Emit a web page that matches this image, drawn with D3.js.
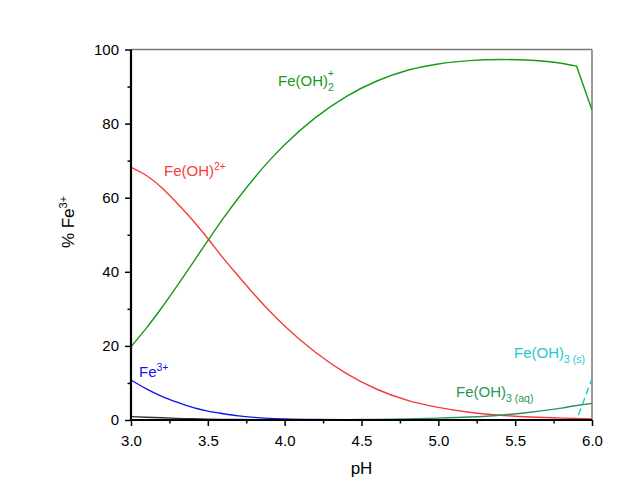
<!DOCTYPE html>
<html>
<head>
<meta charset="utf-8">
<script src="https://cdn.jsdelivr.net/npm/d3@7"></script>
<style>
  body { margin: 0; background: #fff; }
  text { font-family: "Liberation Sans", Arial, sans-serif; }
  .axis text { font-size: 15px; fill: #000; }
</style>
</head>
<body>
<div id="chart"></div>
<script>
// pH grid shared by all species
const pH = [3.0, 3.1, 3.2, 3.3, 3.4, 3.5, 3.6, 3.7, 3.8, 3.9, 4.0, 4.2, 4.4, 4.6, 4.8, 5.0, 5.2, 5.4, 5.6, 5.8, 5.9, 6.0];

// % of total Fe3+ for each species
const feOH2 = [19.8, 24.8, 30.3, 36.2, 42.3, 48.4, 54.4, 60.0, 65.2, 70.0, 74.3, 81.6, 87.3, 91.5, 94.4, 96.1, 97.0, 97.3, 97.1, 96.3, 95.5, 83.6];
const feOH = [68.2, 66.0, 62.7, 58.5, 54.0, 49.0, 43.7, 38.8, 34.0, 29.5, 25.4, 18.3, 12.6, 8.3, 5.3, 3.4, 2.1, 1.3, 0.8, 0.5, 0.4, 0.25];
const fe3 = [10.8, 8.4, 6.4, 4.8, 3.4, 2.4, 1.7, 1.1, 0.7, 0.45, 0.3, 0.12, 0.05, 0.02, 0, 0, 0, 0, 0, 0, 0, 0];
const dimer = [0.9, 0.75, 0.6, 0.45, 0.33, 0.24, 0.17, 0.12, 0.08, 0.05, 0.03, 0.01, 0, 0, 0, 0, 0, 0, 0, 0, 0, 0];
const feOH3aq = [0, 0, 0, 0, 0, 0, 0, 0, 0, 0, 0.02, 0.05, 0.1, 0.17, 0.3, 0.5, 0.8, 1.3, 2.1, 3.2, 3.9, 4.5];
const feOH4 = [0, 0, 0, 0, 0, 0, 0, 0, 0, 0, 0, 0, 0, 0, 0, 0, 0, 0, 0, 0, 0, 0];
const feOH3s = [0, 0, 0, 0, 0, 0, 0, 0, 0, 0, 0, 0, 0, 0, 0, 0, 0, 0, 0, 0, 0, 11.2];

const xTicks = [3.0, 3.5, 4.0, 4.5, 5.0, 5.5, 6.0];
const yTicks = [0, 20, 40, 60, 80, 100];

const W = 617, H = 501;
const margin = { top: 49.5, right: 25, bottom: 81, left: 131 };
const width = W - margin.left - margin.right;
const height = H - margin.top - margin.bottom;

const svg = d3.select("#chart").append("svg")
    .attr("width", W)
    .attr("height", H);

const g = svg.append("g")
    .attr("transform", "translate(" + margin.left + "," + margin.top + ")");

const x = d3.scaleLinear().domain([3, 6]).range([0, width]);
const y = d3.scaleLinear().domain([0, 100]).range([height, 0]);

// frame: top and right in gray
g.append("line").attr("x1", 0).attr("x2", width).attr("y1", 0).attr("y2", 0)
    .attr("stroke", "#7a7a7a").attr("stroke-width", 1.5);
g.append("line").attr("x1", width).attr("x2", width).attr("y1", 0).attr("y2", height)
    .attr("stroke", "#7a7a7a").attr("stroke-width", 1.5);

const smooth = d3.line()
    .x(d => x(d[0]))
    .y(d => y(d[1]))
    .curve(d3.curveMonotoneX);

// smooth up to 5.9, then a straight segment to 6.0 (precipitation onset)
function pathFor(vals) {
    const pts = pH.map((p, i) => [p, vals[i]]);
    const last = pts.pop();
    return smooth(pts) + "L" + x(last[0]) + "," + y(last[1]);
}

const series = [
    { vals: feOH4, color: "#e0a040", dash: null },
    { vals: feOH3s, color: "#1fc8cc", dash: "7,4" },
    { vals: dimer, color: "#333333", dash: null },
    { vals: fe3, color: "#1414f0", dash: null },
    { vals: feOH, color: "#f53c3c", dash: null },
    { vals: feOH2, color: "#179a17", dash: null },
    { vals: feOH3aq, color: "#2a9458", dash: null }
];

series.forEach(s => {
    g.append("path")
        .attr("fill", "none")
        .attr("stroke", s.color)
        .attr("stroke-width", 1.4)
        .attr("stroke-dasharray", s.dash)
        .attr("d", pathFor(s.vals));
});

// axes
const xAxis = g.append("g").attr("class", "axis")
    .attr("transform", "translate(0," + height + ")")
    .call(d3.axisBottom(x).tickValues(xTicks).tickFormat(d3.format(".1f")).tickSize(6).tickPadding(9));
g.append("g").attr("transform", "translate(0," + height + ")")
    .call(d3.axisBottom(x).tickValues(d3.range(3.25, 6, 0.5)).tickFormat("").tickSize(3.5))
    .select(".domain").remove();

const yAxis = g.append("g").attr("class", "axis")
    .call(d3.axisLeft(y).tickValues(yTicks).tickSize(6).tickPadding(6));
g.append("g")
    .call(d3.axisLeft(y).tickValues([10, 30, 50, 70, 90]).tickFormat("").tickSize(3.5))
    .select(".domain").remove();

svg.selectAll(".tick line").attr("stroke", "#000").attr("stroke-width", 1.5);
xAxis.select(".domain").attr("stroke", "#000").attr("stroke-width", 2.2).attr("d", "M0,0H" + width);
yAxis.select(".domain").attr("stroke", "#000").attr("stroke-width", 2.2).attr("d", "M0," + height + "V0");

// axis titles
g.append("text")
    .attr("x", width / 2)
    .attr("y", height + 54)
    .attr("text-anchor", "middle")
    .style("font-size", "17px")
    .text("pH");

const yTitle = svg.append("text")
    .attr("transform", "translate(74,222) rotate(-90)")
    .attr("text-anchor", "middle")
    .style("font-size", "17px");
yTitle.append("tspan").text("% Fe");
yTitle.append("tspan").attr("dy", -7).style("font-size", "11px").text("3+");

// species labels
function label(px, py, color, main, sub, sup) {
    const t = svg.append("text")
        .attr("x", px).attr("y", py)
        .attr("fill", color)
        .style("font-size", "15px");
    t.append("tspan").text(main);
    if (sub) t.append("tspan").attr("dy", 5).style("font-size", "10.5px").text(sub);
    if (sup) t.append("tspan").attr("dx", sub ? -6 : 0).attr("dy", sub ? -14 : -6)
        .style("font-size", "10.5px").text(sup);
}

label(278, 86, "#179a17", "Fe(OH)", "2", "+");
label(164, 176, "#f53c3c", "Fe(OH)", null, "2+");
label(139, 377, "#1414f0", "Fe", null, "3+");
label(456, 397, "#2a9458", "Fe(OH)", "3 (aq)", null);
label(514, 358, "#1fc8cc", "Fe(OH)", "3 (s)", null);
</script>
</body>
</html>
